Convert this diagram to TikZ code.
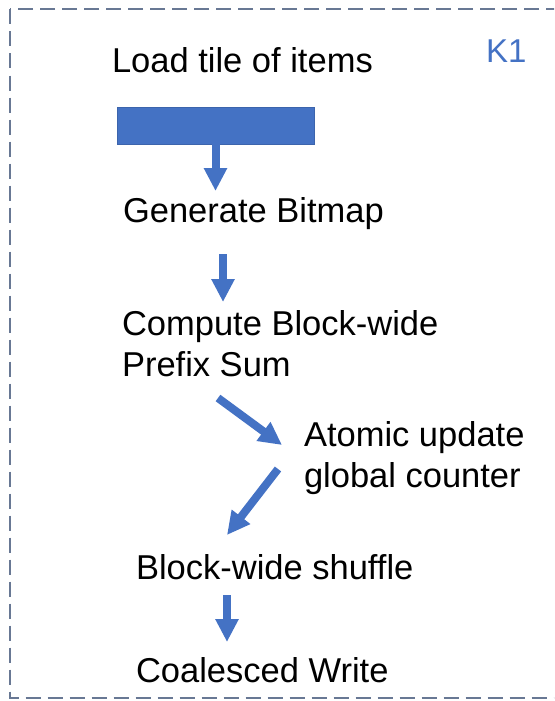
\documentclass[tikz,border=0pt]{standalone}
\usepackage{fontspec}
\setmainfont{Liberation Sans}
\usetikzlibrary{arrows.meta}
\definecolor{officeblue}{RGB}{68,114,196}
\definecolor{rectedge}{RGB}{60,100,172}
\definecolor{bordergray}{RGB}{104,120,148}
\tikzset{
  lbl/.style={anchor=base west, inner sep=0pt, outer sep=0pt, align=left,
    font=\fontsize{34.5}{41}\selectfont, text=black},
  klabel/.style={anchor=base west, inner sep=0pt, font=\fontsize{33}{40}\selectfont, text=officeblue},
  tilebox/.style={draw=rectedge, line width=0.8pt, fill=officeblue, minimum width=197pt,
    minimum height=37pt, inner sep=0pt},
  arr/.style={draw=officeblue, line width=8pt, -{Triangle[width=22pt,length=23pt]}},
  frame/.style={draw=bordergray, line width=2pt, dash pattern=on 15pt off 7pt}
}
\begin{document}
\begin{tikzpicture}[x=1pt,y=-1pt]
\useasboundingbox (0,0) rectangle (554,701);
\clip (0,0) rectangle (554,701);
\draw[frame] (10,9.5) rectangle (620,698);
\node[klabel] (k1) at (486,63) {K1};
\node[lbl] (load) at (112,73) {Load tile of items};
\node[tilebox] (tile) at (215.5,125.5) {};
\node[lbl] (gen) at (123,222) {Generate Bitmap};
\node[lbl] (comp) at (122,376) {Compute Block-wide\\Prefix Sum};
\node[lbl] (atom) at (304,487) {Atomic update\\global counter};
\node[lbl] (shuf) at (136,579) {Block-wide shuffle};
\node[lbl] (coal) at (136,682) {Coalesced Write};
\draw[arr] (tile.south) -- ([xshift=92.5pt,yshift=31pt]gen.base west);
\draw[arr] ([xshift=100pt,yshift=-32pt]gen.base west) -- ([xshift=101pt,yshift=74pt]comp.base west);
\draw[arr] ([xshift=96pt,yshift=-22pt]comp.base west) -- ([xshift=-22pt,yshift=42pt]atom.base west);
\draw[arr] ([xshift=-26pt,yshift=18pt]atom.base west) -- ([xshift=91pt,yshift=44pt]shuf.base west);
\draw[arr] ([xshift=91pt,yshift=-16pt]shuf.base west) -- ([xshift=91pt,yshift=40pt]coal.base west);
\end{tikzpicture}
\end{document}
